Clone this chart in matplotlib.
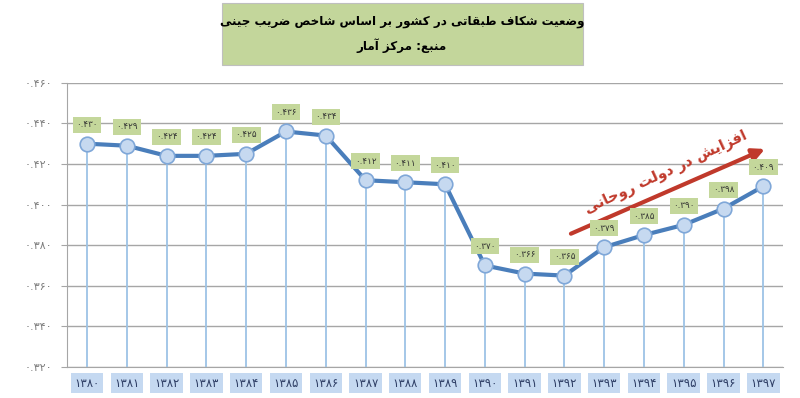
import numpy as np
import matplotlib
matplotlib.use('Agg')
import matplotlib.pyplot as plt
from matplotlib.patches import Rectangle

# data
years = [1380, 1381, 1382, 1383, 1384, 1385, 1386, 1387, 1388,
         1389, 1390, 1391, 1392, 1393, 1394, 1395, 1396, 1397]
gini = [0.430, 0.429, 0.424, 0.424, 0.425, 0.436, 0.434, 0.412, 0.411,
        0.410, 0.370, 0.366, 0.365, 0.379, 0.385, 0.390, 0.398, 0.409]
yticks = [0.320, 0.340, 0.360, 0.380, 0.400, 0.420, 0.440, 0.460]

title1 = 'وضعیت شکاف طبقاتی در کشور بر اساس شاخص ضریب جینی'
title2 = 'منبع: مرکز آمار'
arrow_txt = 'افزایش در دولت روحانی'

# minimal persian shaping (matplotlib has no bidi / joining)
FORMS = {
    'ا': ('\uFE8D', '\uFE8E', None, None),
    'آ': ('\uFE81', '\uFE82', None, None),
    'ب': ('\uFE8F', '\uFE90', '\uFE91', '\uFE92'),
    'ت': ('\uFE95', '\uFE96', '\uFE97', '\uFE98'),
    'ج': ('\uFE9D', '\uFE9E', '\uFE9F', '\uFEA0'),
    'ح': ('\uFEA1', '\uFEA2', '\uFEA3', '\uFEA4'),
    'خ': ('\uFEA5', '\uFEA6', '\uFEA7', '\uFEA8'),
    'د': ('\uFEA9', '\uFEAA', None, None),
    'ر': ('\uFEAD', '\uFEAE', None, None),
    'ز': ('\uFEAF', '\uFEB0', None, None),
    'س': ('\uFEB1', '\uFEB2', '\uFEB3', '\uFEB4'),
    'ش': ('\uFEB5', '\uFEB6', '\uFEB7', '\uFEB8'),
    'ص': ('\uFEB9', '\uFEBA', '\uFEBB', '\uFEBC'),
    'ض': ('\uFEBD', '\uFEBE', '\uFEBF', '\uFEC0'),
    'ط': ('\uFEC1', '\uFEC2', '\uFEC3', '\uFEC4'),
    'ع': ('\uFEC9', '\uFECA', '\uFECB', '\uFECC'),
    'ف': ('\uFED1', '\uFED2', '\uFED3', '\uFED4'),
    'ق': ('\uFED5', '\uFED6', '\uFED7', '\uFED8'),
    'ل': ('\uFEDD', '\uFEDE', '\uFEDF', '\uFEE0'),
    'م': ('\uFEE1', '\uFEE2', '\uFEE3', '\uFEE4'),
    'ن': ('\uFEE5', '\uFEE6', '\uFEE7', '\uFEE8'),
    'ه': ('\uFEE9', '\uFEEA', '\uFEEB', '\uFEEC'),
    'و': ('\uFEED', '\uFEEE', None, None),
    'ی': ('\uFBFC', '\uFBFD', '\uFBFE', '\uFBFF'),
    'ک': ('\uFB8E', '\uFB8F', '\uFB90', '\uFB91'),
}


def shape(text):
    out = []
    for i, ch in enumerate(text):
        if ch not in FORMS:
            out.append(ch)
            continue
        iso, fin, ini, med = FORMS[ch]
        prev = text[i-1] if i > 0 else ''
        nxt = text[i+1] if i < len(text)-1 else ''
        jp = prev in FORMS and FORMS[prev][2] is not None
        jn = nxt in FORMS and ini is not None
        if jp and jn:
            out.append(med)
        elif jp:
            out.append(fin)
        elif jn:
            out.append(ini)
        else:
            out.append(iso)
    return ''.join(out)[::-1]


def fa(s):
    return str(s).translate(str.maketrans('0123456789', '۰۱۲۳۴۵۶۷۸۹'))


plt.rcParams['font.family'] = ['DejaVu Sans']

fig = plt.figure(figsize=(8, 3.98), dpi=100)
ax = fig.add_axes([0.084, 0.078, 0.895, 0.714])

x = np.arange(len(years))
ax.vlines(x, 0.32, gini, color='#9dc3e6', lw=1.3, zorder=2)
ax.plot(x, gini, color='#4a7ebb', lw=3, marker='o', ms=10.5,
        mfc='#c6d9f0', mec='#7fa7d8', mew=1.2, zorder=3)

for xi, v in zip(x, gini):
    ax.annotate(fa(f'{v:.3f}'), (xi, v), xytext=(0, 19), textcoords='offset pixels',
                ha='center', va='center', fontsize=6.3, color='#333333',
                bbox=dict(boxstyle='square,pad=0.4', fc='#c4d79b', ec='none'), zorder=4)

ax.set_xlim(-0.5, len(years) - 0.5)
ax.set_ylim(0.32, 0.46)
ax.set_yticks(yticks)
ax.set_yticklabels([fa(f'{t:.3f}') for t in yticks], fontsize=8, color='#7f7f7f')
ax.set_xticks(x)
ax.set_xticklabels([fa(y) for y in years], fontsize=8.5, color='#2f3f66')
for lbl in ax.get_xticklabels():
    lbl.set_bbox(dict(boxstyle='square,pad=0.3', fc='#c5d9f1', ec='none'))
ax.tick_params(axis='x', length=0, pad=7)
ax.tick_params(axis='y', length=4, color='#a6a6a6', pad=7)
ax.grid(axis='y', color='#a6a6a6', lw=1)
ax.set_axisbelow(True)
for s in ['top', 'right']:
    ax.spines[s].set_visible(False)
for s in ['left', 'bottom']:
    ax.spines[s].set_color('#a6a6a6')

# title box
fig.patches.append(Rectangle((222/800, 1-65/398), 361/800, 62/398, transform=fig.transFigure,
                             fc='#c3d69b', ec='#bfbfbf', lw=0.8, zorder=0))
fig.text(402/800, 1-21/398, shape(title1), ha='center', va='center',
         fontsize=8.6, fontweight='bold')
fig.text(402/800, 1-46/398, shape(title2), ha='center', va='center',
         fontsize=8.6, fontweight='bold')

# red arrow + note
ax.annotate('', xy=(0.978, 0.771), xytext=(0.700, 0.465), xycoords='axes fraction',
            arrowprops=dict(arrowstyle='-|>', lw=3, color='#c0392b', mutation_scale=18))
ax.text(0.836, 0.685, shape(arrow_txt), transform=ax.transAxes, rotation=25,
        ha='center', va='center', fontsize=10.5, fontweight='bold', color='#c0392b')

fig.savefig('out.png', dpi=100)
